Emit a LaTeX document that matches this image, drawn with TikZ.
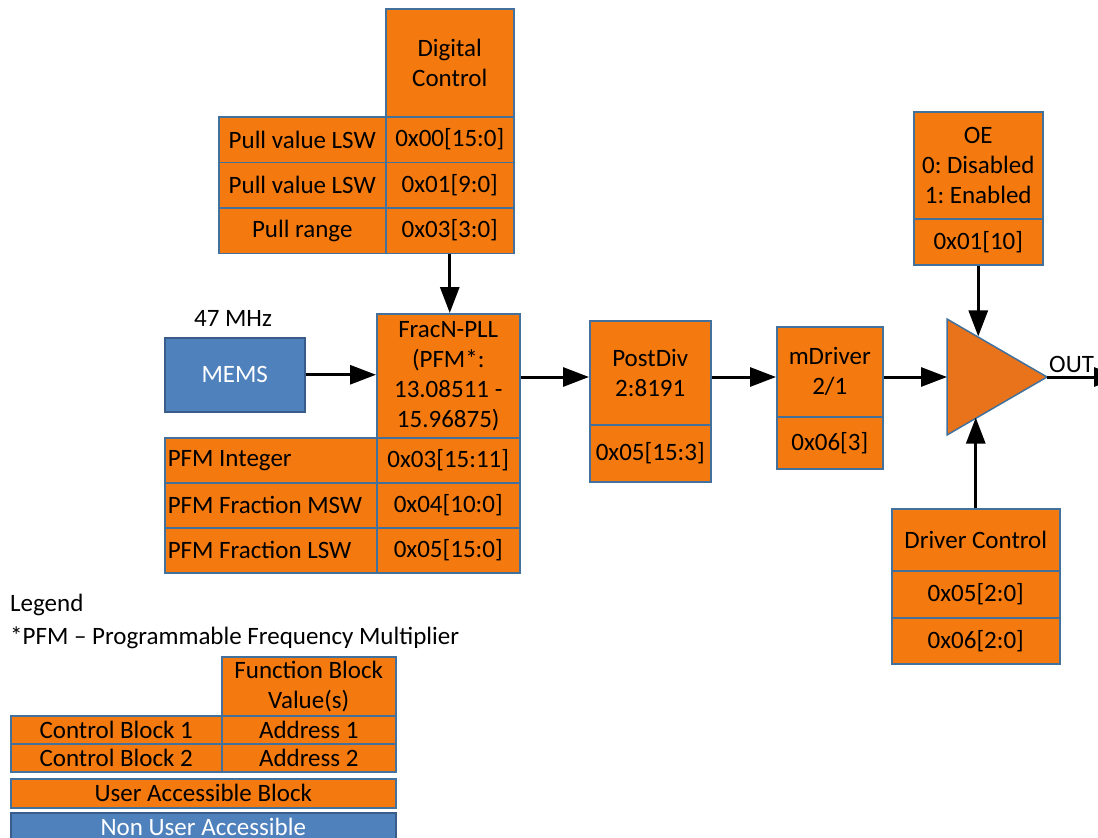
\documentclass[tikz,border=0pt]{standalone}
\usepackage{fontspec}
\setmainfont{Carlito}
\usetikzlibrary{arrows.meta,calc}
\definecolor{regorange}{HTML}{F47A10}
\definecolor{regedge}{HTML}{41719C}
\definecolor{memsblue}{HTML}{4F81BD}
\definecolor{memsedge}{HTML}{385D8A}
\definecolor{ampfill}{HTML}{E8731A}
\tikzset{
	txt/.style={inner sep=0pt, font=\fontsize{25}{30}\selectfont\frenchspacing},
	reg/.style={txt, draw=regedge, fill=regorange, line width=1.5pt, anchor=north west, align=flush center},
	nua/.style={reg, draw=memsedge, fill=memsblue, text=white},
	sig/.style={line width=3pt, -{Triangle[length=26pt,width=19pt]}}
}
\begin{document}
\begin{tikzpicture}[x=1pt,y=-1pt]
		\useasboundingbox (0,0) rectangle (1098,838);
		\node[reg, minimum width=128, minimum height=108] (dc) at (385,8) {Digital\\Control};
		\foreach \lbl/\adr [count=\i] in {{Pull value LSW}/{0x00[15:0]},{Pull value LSW}/{0x01[9:0]},{Pull range}/{0x03[3:0]}}{
			\node[reg, minimum width=167, minimum height=45.5] (dcl\i) at (218,{116+45.5*(\i-1)}) {\lbl};
			\node[reg, minimum width=128, minimum height=45.5] (dca\i) at (385,{116+45.5*(\i-1)}) {\adr};
		}
		\node[nua, minimum width=140, minimum height=74] (mems) at (164,337) {MEMS};
		\node[txt, anchor=base] (freq) at (233,326) {47 MHz};
		\node[reg, minimum width=143, minimum height=124] (frac) at (376,313) {FracN-PLL\\(PFM*:\\13.08511 -\\15.96875)};
		\foreach \lbl/\adr [count=\i] in {{PFM Integer}/{0x03[15:11]},{PFM Fraction MSW}/{0x04[10:0]},{PFM Fraction LSW}/{0x05[15:0]}}{
			\node[reg, text width=206, inner xsep=3pt, align=flush left, minimum height=45] (pfml\i) at (164,{437+45*(\i-1)}) {\lbl};
			\node[reg, minimum width=143, minimum height=45] (pfma\i) at (376,{437+45*(\i-1)}) {\adr};
		}
		\node[reg, minimum width=121, minimum height=104] (pdiv) at (589,320) {PostDiv\\2:8191};
		\node[reg, minimum width=121, minimum height=57] (pdiva) at (589,424) {0x05[15:3]};
		\node[reg, minimum width=106, minimum height=90] (mdrv) at (776,326) {mDriver\\2/1};
		\node[reg, minimum width=106, minimum height=52] (mdrva) at (776,416) {0x06[3]};
		\node[reg, minimum width=129, minimum height=107] (oe) at (913,111) {OE\\0: Disabled\\1: Enabled};
		\node[reg, minimum width=129, minimum height=46] (oea) at (913,218) {0x01[10]};
		\node[reg, minimum width=168, minimum height=62] (drv) at (891,508) {Driver Control};
		\node[reg, minimum width=168, minimum height=47] (drva1) at (891,570) {0x05[2:0]};
		\node[reg, minimum width=168, minimum height=46] (drva2) at (891,617) {0x06[2:0]};
		\coordinate (ampT) at (947,319);
		\coordinate (ampB) at (947,435);
		\coordinate (ampR) at (1047,377);
		\coordinate (oein) at ($(ampT)!0.3!(ampR)$);
		\coordinate (drvin) at ($(ampB)!0.3!(ampR)$);
		\coordinate (outend) at (1120,377);
		\draw[draw=regedge, fill=ampfill, line width=1.5pt] (ampT) -- (ampR) -- (ampB) -- cycle;
		\node[txt, anchor=base west] (out) at (1049,372) {OUT};
		\draw[sig] (dca3.south) -- (dca3.south |- frac.north);
		\draw[sig] (mems.east) -- (mems.east -| frac.west);
		\draw[sig] (frac.east |- ampR) -- (pdiv.west |- ampR);
		\draw[sig] (pdiv.east |- ampR) -- (mdrv.west |- ampR);
		\draw[sig] (mdrv.east |- ampR) -- (ampT |- ampR);
		\draw[sig] (oea.south) -- (oea.south |- oein);
		\draw[sig] (drv.north) -- (drv.north |- drvin);
		\draw[sig] (ampR) -- (outend);
		\node[txt, anchor=base west] (leg) at (10,611) {Legend};
		\node[txt, anchor=base west] (pfm) at (10,644) {*PFM – Programmable Frequency Multiplier};
		\node[reg, minimum width=174, minimum height=59] (fb) at (221,656) {Function Block\\Value(s)};
		\foreach \i in {1,2}{
			\node[reg, minimum width=211, minimum height=28] (cb\i) at (10,{715+28*(\i-1)}) {Control Block \i};
			\node[reg, minimum width=174, minimum height=28] (ad\i) at (221,{715+28*(\i-1)}) {Address \i};
		}
		\node[reg, minimum width=385, minimum height=29] (uab) at (10,778) {User Accessible Block};
		\node[nua, minimum width=385, minimum height=28] (nuab) at (10,812) {Non User Accessible};
	\end{tikzpicture}
\end{document}
